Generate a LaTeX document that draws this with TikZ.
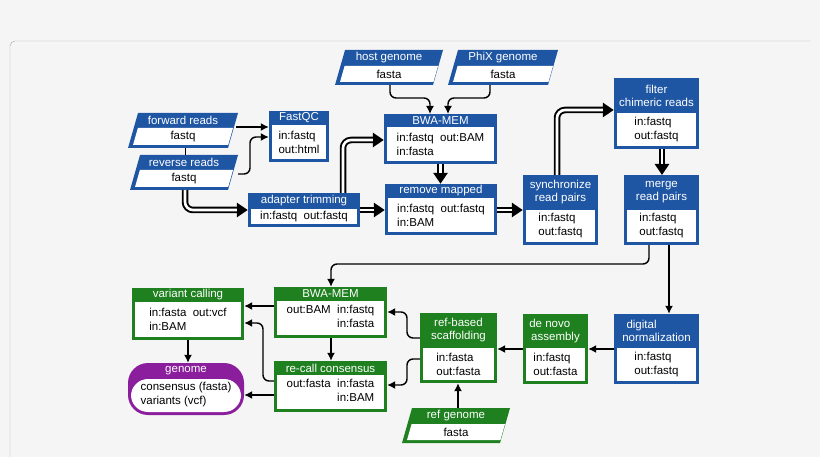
\documentclass[tikz,border=0pt]{standalone}
\usepackage{fontspec}
\setmainfont{Liberation Sans}
\usepackage{tikz}
\usetikzlibrary{arrows.meta}

\definecolor{stepblue}{HTML}{1F56A3}
\definecolor{stepgreen}{HTML}{1E801E}
\definecolor{steppurple}{HTML}{8A1E9C}
\definecolor{paper}{HTML}{F5F5F5}

% process box: name, colour, x1, y1, x2, y2, header bottom, title, body
\newcommand{\stepbox}[9]{%
  \node[inner sep=0, fill=#2, minimum width={(#5-#3)*1pt}, minimum height={(#6-#4)*1pt}]
    (#1) at ({(#3+#5)/2},{(#4+#6)/2}) {};
  \fill[white] ({#3+3},#7) rectangle ({#5-3},{#6-3});
  \node[head] at ({(#3+#5)/2},{(#4+#7)/2}) {#8};
  \node[body] at ({(#3+#5)/2},{(#7+#6-3)/2}) {#9};
}
% data parallelogram: name, colour, x1, y1, x2, y2, header bottom, title, body
\newcommand{\datashape}[9]{%
  \fill[#2] (#3,#6) -- ({#3+10},#4) -- (#5,#4) -- ({#5-10},#6) -- cycle;
  \fill[white] ({#3+5},{#6-3}) -- ({#3+5+10*(#6-3-#7)/(#6-#4)},#7)
    -- ({#5-5},#7) -- ({#5-5-10*(#7-#6+3)/(#4-#6)},{#6-3}) -- cycle;
  \node[inner sep=0, minimum width={(#5-#3)*1pt}, minimum height={(#6-#4)*1pt}]
    (#1) at ({(#3+#5)/2},{(#4+#6)/2}) {};
  \node[head] at ({(#3+#5)/2},{(#4+#7)/2}) {#8};
  \node[body, align=center] at ({(#3+#5)/2},{(#7+#6-3)/2}) {#9};
}

\begin{document}
\begin{tikzpicture}[x=1pt,y=-1pt,
    head/.style={text=white, align=center, inner sep=0, font=\fontsize{11.5}{13}\selectfont},
    body/.style={text=black, align=left, inner sep=0, font=\fontsize{11.5}{14}\selectfont},
    flow/.style={line width=1.4pt, -{Latex[length=8pt,width=8pt]}, rounded corners=6pt},
    reads/.style={line width=6.5pt, -{Triangle[length=11pt,width=14pt]}, rounded corners=8pt,
      postaction={draw=white, line width=2.6pt, -, shorten >=11pt}}]
   \fill[paper] (0,0) rectangle (820,457);
   \useasboundingbox (0,0) rectangle (820,457);
   \draw[gray!70, rounded corners=5pt] (10,457) -- (10,41) -- (810,41);

   % inputs
   \datashape{fwd}{stepblue}{128}{113}{238}{148}{128}{forward reads}{fastq}
   \datashape{rev}{stepblue}{130}{155}{238}{190}{170}{reverse reads}{fastq}
   \datashape{host}{stepblue}{335}{50}{443}{85}{66}{host genome}{fasta}
   \datashape{phix}{stepblue}{448}{50}{558}{85}{66}{PhiX genome}{fasta}
   \datashape{refgen}{stepgreen}{402}{408}{510}{443}{424}{ref genome}{fasta}

   % read processing
   \stepbox{fastqc}{stepblue}{269}{111}{329}{162}{125}{FastQC}{in:fastq\\out:html}
   \stepbox{trim}{stepblue}{248}{193}{360}{227}{209}{adapter trimming}{in:fastq\ \ out:fastq}
   \stepbox{bwa}{stepblue}{384}{114}{497}{164}{127}{BWA-MEM}{in:fastq\ \ out:BAM\\in:fasta}
   \stepbox{remove}{stepblue}{385}{184}{497}{235}{198}{remove mapped}{in:fastq\ \ out:fastq\\in:BAM}
   \stepbox{sync}{stepblue}{523}{175}{598}{245}{210}{synchronize\\read pairs}{in:fastq\\out:fastq}
   \stepbox{chimera}{stepblue}{614}{78}{699}{149}{113}{filter\\chimeric reads}{in:fastq\\out:fastq}
   \stepbox{merge}{stepblue}{624}{175}{699}{245}{210}{merge\\read pairs}{in:fastq\\out:fastq}
   \stepbox{norm}{stepblue}{614}{314}{699}{384}{348}{digital\hspace*{2.6em}\\normalization}{in:fastq\\out:fastq}

   % assembly
   \stepbox{denovo}{stepgreen}{523}{314}{588}{384}{348}{de novo\hspace*{1em}\\assembly}{in:fastq\\out:fasta}
   \stepbox{scaffold}{stepgreen}{420}{313}{497}{383}{348}{ref-based\\scaffolding}{in:fasta\\out:fasta}
   \stepbox{bwagreen}{stepgreen}{274}{287}{387}{338}{301}{BWA-MEM}{\begin{tabular}{@{}l@{\ \ }l@{}}out:BAM & in:fastq\\ & in:fasta\end{tabular}}
   \stepbox{recall}{stepgreen}{274}{361}{387}{412}{375}{re-call consensus}{\begin{tabular}{@{}l@{\ \ }l@{}}out:fasta & in:fasta\\ & in:BAM\end{tabular}}
   \stepbox{variant}{stepgreen}{132}{288}{244}{340}{302}{variant calling}{in:fasta\ \ out:vcf\\in:BAM}

   % result
   \fill[steppurple, rounded corners=20pt] (128,363) rectangle (244,415);
   \fill[white, rounded corners=17pt] (131,379) rectangle (241,412);
   \node[inner sep=0, minimum width=116pt, minimum height=52pt] (genome) at (186,389) {};
   \node[head] at (186,371) {genome};
   \node[body] at (186,395) {consensus (fasta)\\variants (vcf)};

   % connectors
   \coordinate (fwdout) at (236,127);
   \draw[flow] (fwdout) -- (fastqc.west |- fwdout);
   \draw[flow] (rev.east |- 0,174) -- (250,174) -- (250,137) -- (fastqc.west |- 0,137);
   \draw[line width=1pt] (185,148) -- (185,155);
   \draw[reads] (185,190) -- (185,210) -- (trim.west |- 0,210);
   \draw[reads] (343,193) -- (343,140) -- (bwa.west |- 0,140);
   \draw[reads] (trim.east |- 0,210) -- (remove.west |- 0,210);
   \draw[flow] (390,85) -- (390,98) -- (430,98) -- (430,114);
   \draw[flow] (490,85) -- (490,98) -- (448,98) -- (448,114);
   \draw[reads] (bwa.south) -- (remove.north -| bwa.south);
   \draw[reads] (remove.east |- 0,210) -- (sync.west |- 0,210);
   \draw[reads] (557,175) -- (557,110) -- (chimera.west |- 0,110);
   \draw[reads] (662,149) -- (662,175);
   \draw[flow] (649,245) -- (649,264) -- (331,264) -- (bwagreen.north -| 331,0);
   \draw[flow] (669,245) -- (norm.north -| 669,0);
   \draw[flow] (norm.west |- 0,349) -- (denovo.east |- 0,349);
   \draw[flow] (denovo.west |- 0,349) -- (scaffold.east |- 0,349);
   \draw[flow] (refgen.north -| 458,0) -- (scaffold.south -| 458,0);
   \draw[flow] (scaffold.west |- 0,338) -- (407,338) -- (407,312) -- (bwagreen.east |- 0,312);
   \draw[flow] (scaffold.west |- 0,359) -- (407,359) -- (407,385) -- (recall.east |- 0,385);
   \draw[flow] (bwagreen.west |- 0,306) -- (variant.east |- 0,306);
   \draw[flow] (bwagreen.south -| 331,0) -- (recall.north -| 331,0);
   \draw[flow] (recall.west |- 0,381) -- (263,381) -- (263,323) -- (variant.east |- 0,323);
   \draw[flow] (recall.west |- 0,395) -- (genome.east |- 0,395);
   \draw[flow] (variant.south -| 188,0) -- (genome.north -| 188,0);
\end{tikzpicture}
\end{document}
